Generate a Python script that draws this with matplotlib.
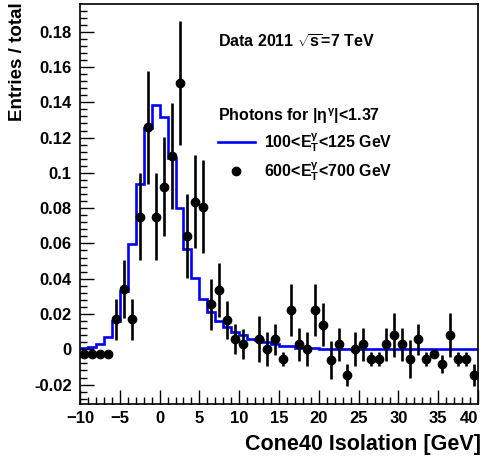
import matplotlib
matplotlib.use('Agg')
import numpy as np
import matplotlib.pyplot as plt

plt.rcParams['font.family'] = ['Liberation Sans', 'DejaVu Sans']
plt.rcParams['font.weight'] = 'bold'
plt.rcParams['mathtext.fontset'] = 'custom'
plt.rcParams['mathtext.rm'] = 'Liberation Sans:bold'
plt.rcParams['mathtext.it'] = 'Liberation Sans:bold'
plt.rcParams['mathtext.bf'] = 'Liberation Sans:bold'
plt.rcParams['mathtext.sf'] = 'Liberation Sans:bold'

# blue histogram, 100 < ET < 125 GeV, bins of 1 GeV from -10 to 40
edges = np.arange(-10, 41, 1)
low_et = [0.001, 0.0015, 0.003, 0.007, 0.016, 0.033, 0.0597, 0.0937, 0.1255, 0.1385,
          0.1319, 0.1083, 0.0799, 0.0567, 0.0402, 0.0283, 0.021, 0.016, 0.0128, 0.010,
          0.0081, 0.0057, 0.0055, 0.0043, 0.003, 0.002, 0.002, 0.001, 0.001, 0.001,
          0.0003, 0.0003, 0.0003, 0.0003, 0.0003, 0.0003, 0.0003, 0.0003, 0.0003, 0.0003,
          0.0003, 0.0003, 0.0003, 0.0003, 0.0003, 0.0003, 0.0003, 0.0003, 0.0003, 0.0003]

# black points, 600 < ET < 700 GeV (bin 11-12 empty)
centers = np.arange(-9.5, 40, 1)
high_et = [-0.0028, -0.0028, -0.0028, -0.0028, 0.017, 0.034, 0.017, 0.0752, 0.1259, 0.0752,
           0.0922, 0.1096, 0.1508, 0.0642, 0.0837, 0.0808, 0.0255, 0.0336, 0.0166, 0.0057,
           0.0028, np.nan, 0.0057, 0.0, 0.0057, -0.0057, 0.0223, 0.0028, 0.0, 0.0223,
           0.014, -0.006, 0.0028, -0.0146, 0.0, 0.0028, -0.0057, -0.0057, 0.0028, 0.0081,
           0.0028, -0.0057, 0.0057, -0.0057, -0.0027, -0.0085, 0.0081, -0.0057, -0.0057, -0.0146]
high_err = [0.0015, 0.0015, 0.0015, 0.0015, 0.0116, 0.0165, 0.0116, 0.0248, 0.032, 0.0248,
            0.028, 0.030, 0.035, 0.0237, 0.0263, 0.0263, 0.0144, 0.0152, 0.0109, 0.0085,
            0.0085, np.nan, 0.013, 0.0097, 0.0088, 0.004, 0.0148, 0.0093, 0.0097, 0.0148,
            0.012, 0.0107, 0.0093, 0.0063, 0.0097, 0.0093, 0.004, 0.004, 0.0093, 0.0125,
            0.0093, 0.0107, 0.0088, 0.004, 0.0025, 0.005, 0.0125, 0.004, 0.004, 0.0063]

labels = [r'100<E$_{\mathregular{T}}^{\gamma}$<125 GeV',
          r'600<E$_{\mathregular{T}}^{\gamma}$<700 GeV']

fig = plt.figure(figsize=(4.84, 4.63), dpi=100)
ax = fig.add_axes([80/484, 59/463, 398/484, 400/463])

st = ax.stairs(low_et, edges, baseline=None, color='#0000ff', lw=1.9)
eb = ax.errorbar(centers, high_et, yerr=high_err, fmt='o', color='black', ms=6,
                 elinewidth=1.9, capsize=0)

ax.set_xlim(-10, 40)
ax.set_ylim(-0.031, 0.1957)
ax.set_xticks(np.arange(-10, 41, 5))
ax.set_xticks(np.arange(-10, 41, 1), minor=True)
ax.set_yticks(np.arange(-0.02, 0.19, 0.02))
ax.set_yticks(np.arange(-0.028, 0.195, 0.004), minor=True)
ax.set_yticklabels(['-0.02', '0', '0.02', '0.04', '0.06', '0.08', '0.1', '0.12',
                    '0.14', '0.16', '0.18'])
ax.tick_params(which='both', direction='in', top=False, right=False, labelsize=12, width=1)
ax.tick_params(which='major', length=10)
ax.tick_params(which='minor', length=5)
ax.tick_params(axis='y', pad=6)
ax.tick_params(axis='x', pad=5)
# keep the last x label inside the canvas, as in the original
ax.get_xticklabels()[-1].set_horizontalalignment('right')
for s in ax.spines.values():
    s.set_linewidth(1.2)

fig.text(481/484, 13/463, 'Cone40 Isolation [GeV]', ha='right', va='baseline', fontsize=15.5)
fig.text(18/484, 1 - 2/463, 'Entries / total', ha='center', va='top', rotation=90, fontsize=13.5)

ax.text(0.347, 0.889, r'Data 2011 $\sqrt{s}$=7 TeV', transform=ax.transAxes, fontsize=11.5)

leg = ax.legend(handles=[st, eb[0]], labels=labels,
                title=r'Photons for |$\eta^{\gamma}$|<1.37',
                loc='upper left', bbox_to_anchor=(0.347, 0.745), frameon=False,
                alignment='left', fontsize=11.5, title_fontsize=11.5, borderpad=0,
                borderaxespad=0, handlelength=2.3, handletextpad=0.55, labelspacing=0.38)

plt.savefig('out.png', dpi=100)
